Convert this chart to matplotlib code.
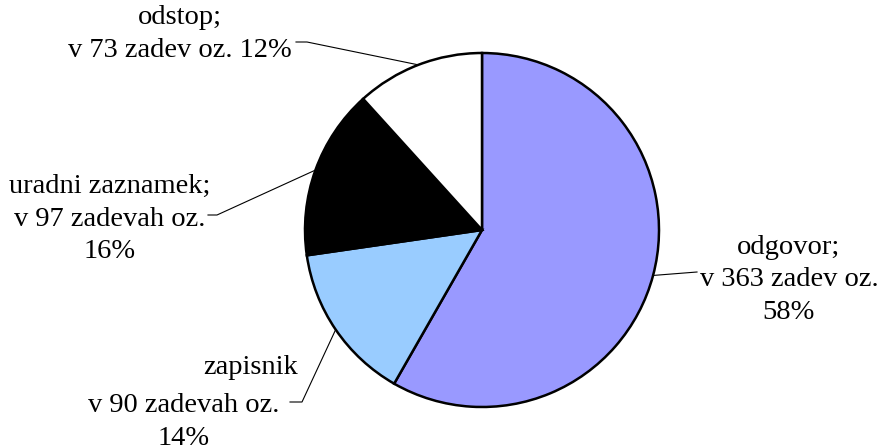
import numpy as np
import matplotlib
matplotlib.use('Agg')
import matplotlib.pyplot as plt

labels = ['odgovor', 'zapisnik', 'uradni zaznamek', 'odstop']
counts = [363, 90, 97, 73]
colors = ['#9999FF', '#99CCFF', '#000000', '#FFFFFF']

plt.rcParams['font.family'] = ['Liberation Serif', 'DejaVu Serif']

fig = plt.figure(figsize=(8.81, 4.48), dpi=100)
ax = fig.add_axes([0, 0, 1, 1])

cx, cy, r = 482, 218, 177
wedges, _ = ax.pie(counts, colors=colors, startangle=90, counterclock=False,
                   center=(cx, cy), radius=r, frame=True,
                   wedgeprops=dict(edgecolor='black', linewidth=1.8))
ax.set_xlim(0, 881)
ax.set_ylim(0, 448)
ax.axis('off')

total = sum(counts)
pct = [round(c / total * 100) for c in counts]

def edge(i):
    w = wedges[i]
    a = np.deg2rad((w.theta1 + w.theta2) / 2)
    return cx + r * np.cos(a), cy + r * np.sin(a)

fs = 20.5
ls = 1.38
# odgovor
ax.text(789, 168, f'{labels[0]};\nv {counts[0]} zadev oz.\n{pct[0]}%',
        ha='center', va='center', fontsize=fs, linespacing=ls)
ex, ey = edge(0)
ax.plot([ex, 697], [ey, 176], color='black', lw=0.8)

# zapisnik
ax.text(251, 81, labels[1], ha='center', va='center', fontsize=fs)
ax.text(184, 26, f'v {counts[1]} zadevah oz.\n{pct[1]}%',
        ha='center', va='center', fontsize=fs, linespacing=ls)
ex, ey = edge(1)
ax.plot([290, 302, ex], [46, 46, ey], color='black', lw=0.8)

# uradni zaznamek
ax.text(110, 229, f'{labels[2]};\nv {counts[2]} zadevah oz.\n{pct[2]}%',
        ha='center', va='center', fontsize=fs, linespacing=ls)
ex, ey = edge(2)
ax.plot([208, 217, ex], [233, 233, ey], color='black', lw=0.8)

# odstop
ax.text(180, 414, f'{labels[3]};\nv {counts[3]} zadev oz. {pct[3]}%',
        ha='center', va='center', fontsize=fs, linespacing=ls)
ex, ey = edge(3)
ax.plot([296, 307, ex], [406, 406, ey], color='black', lw=0.8)

fig.savefig('out.png', dpi=100)
